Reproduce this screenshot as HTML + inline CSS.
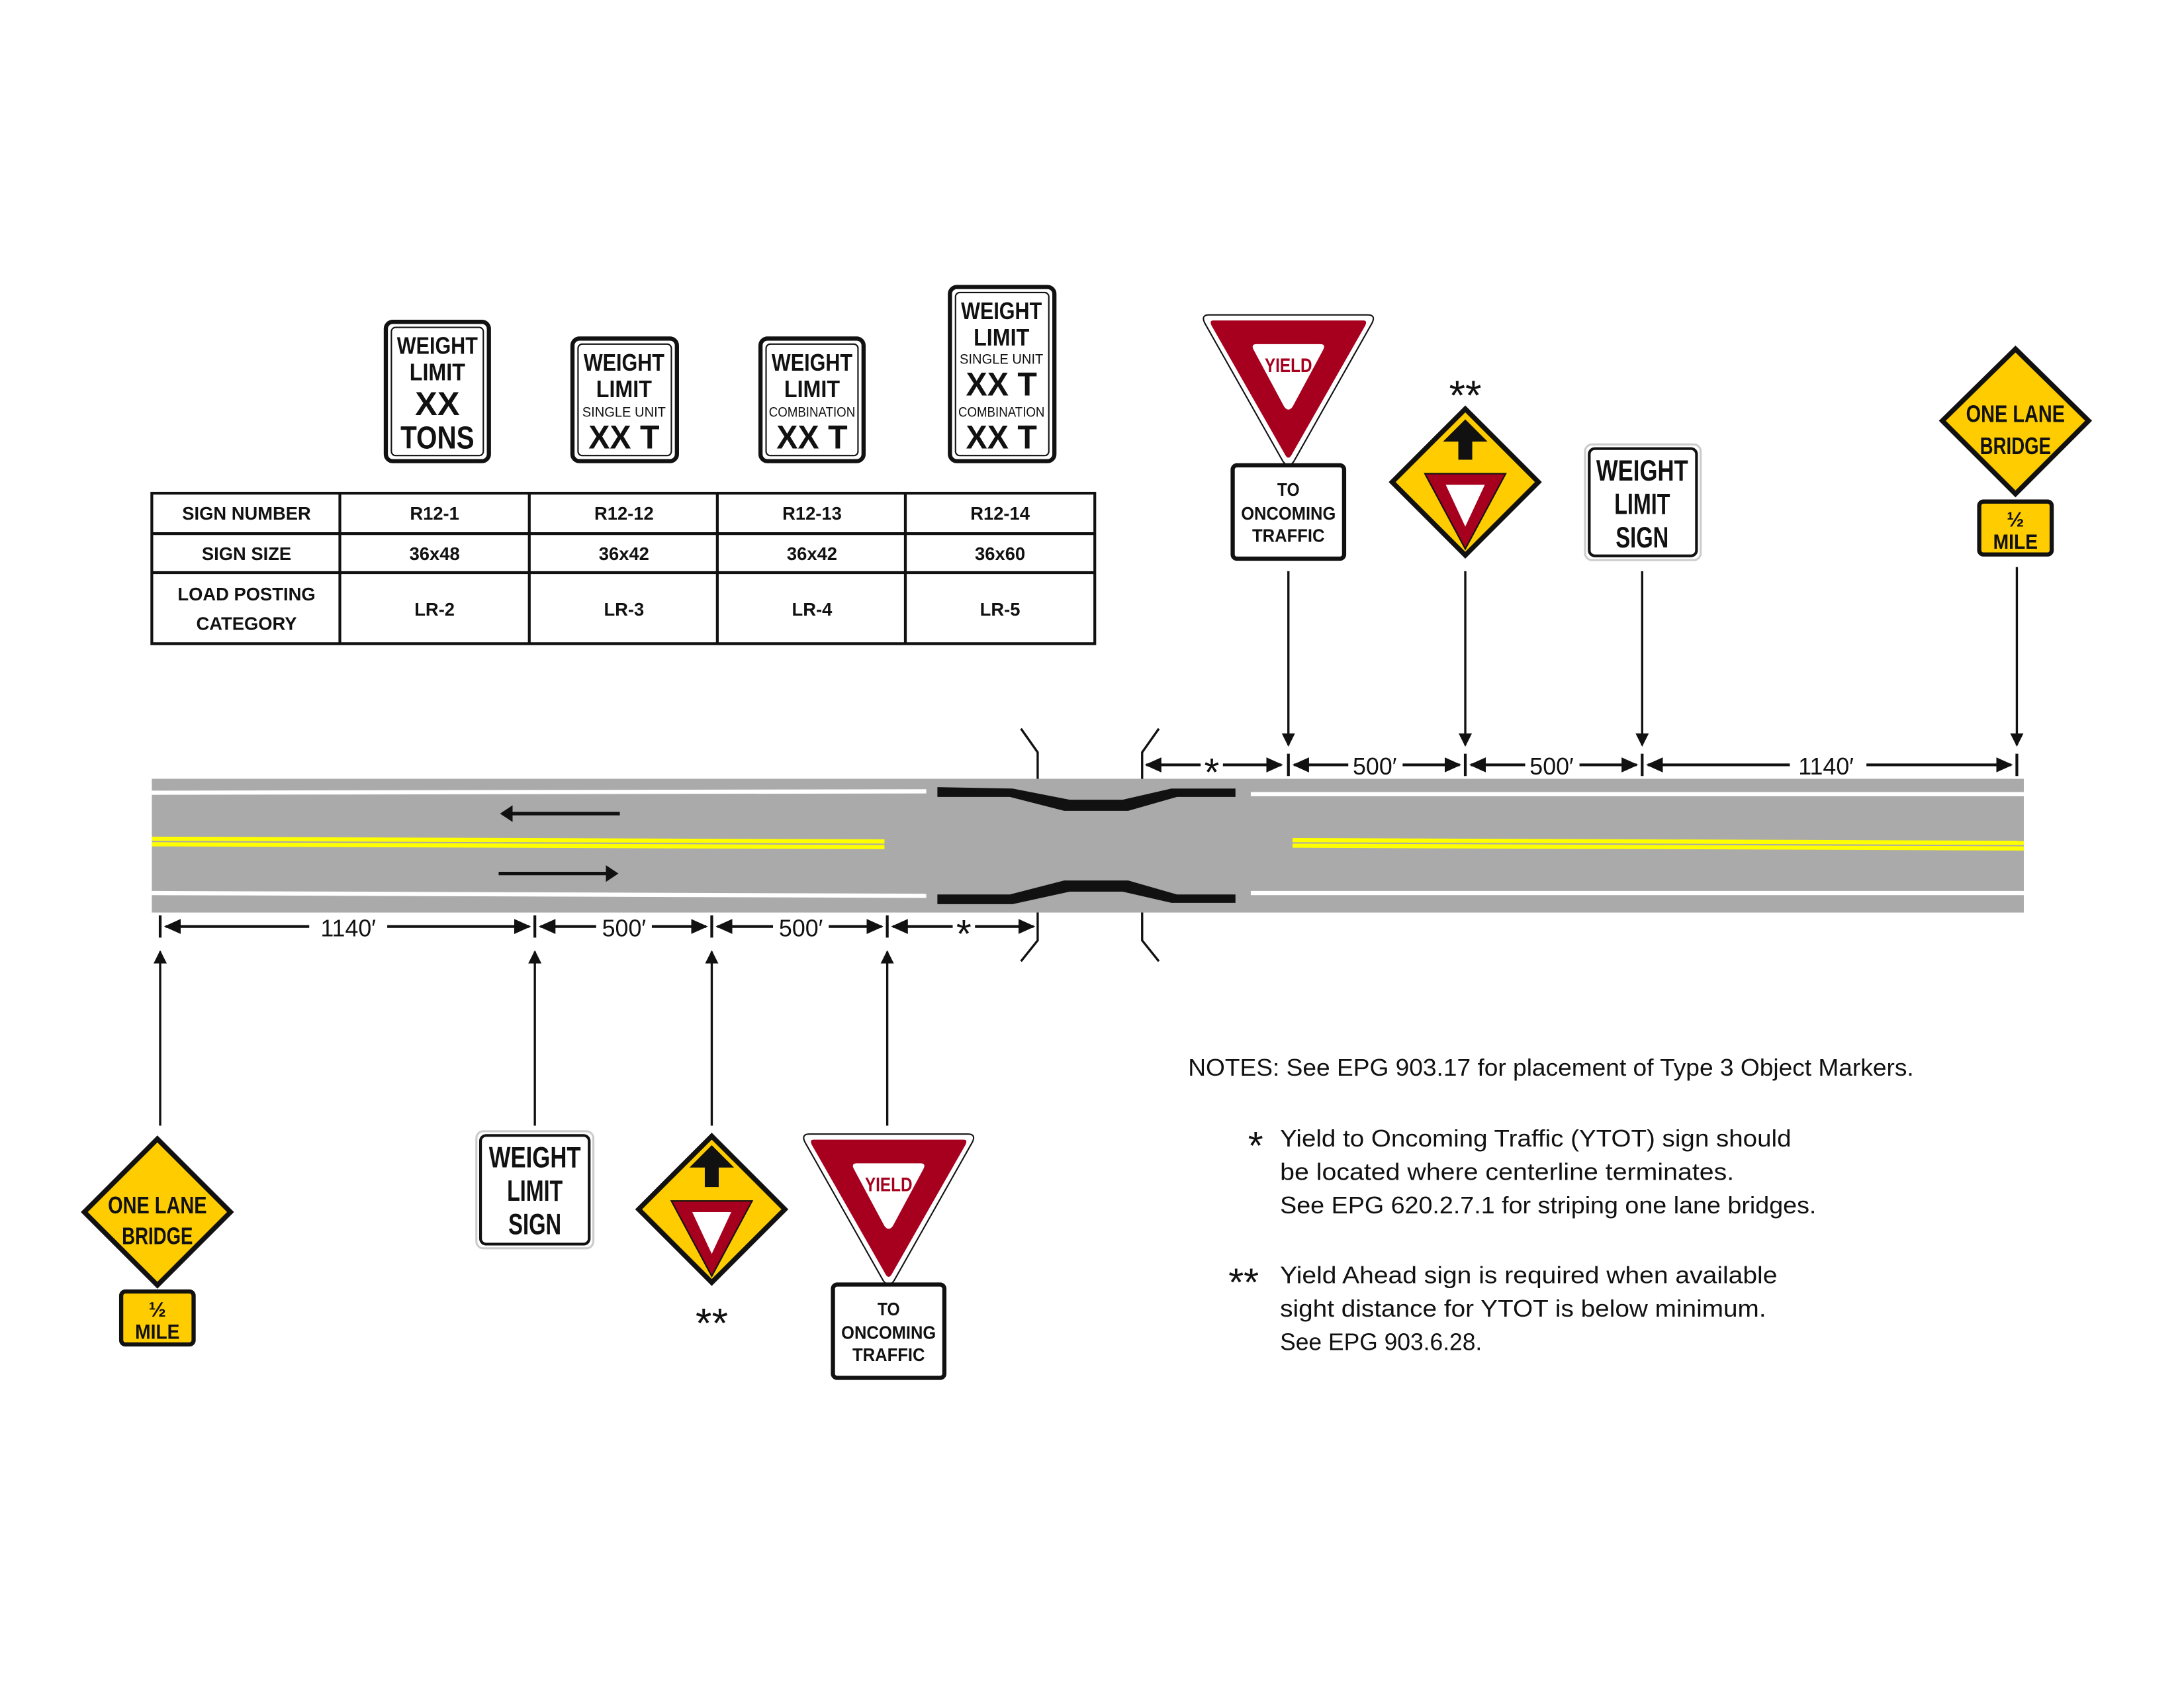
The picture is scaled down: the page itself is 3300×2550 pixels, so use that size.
<!DOCTYPE html>
<html><head><meta charset="utf-8"><style>
html,body{margin:0;padding:0;background:#fff;}
svg{display:block;}
.sf{font-family:"Liberation Sans",sans-serif;}
.tb{font-family:"Liberation Sans",sans-serif;font-weight:bold;font-size:13px;}
.nt{font-family:"Liberation Sans",sans-serif;font-size:17px;}
</style></head><body>
<svg width="3300" height="2550" viewBox="0 0 1568 1211.6" preserveAspectRatio="none" xmlns="http://www.w3.org/2000/svg">
<defs>
<marker id="ah" viewBox="0 0 10 10" refX="9" refY="5" markerWidth="6" markerHeight="6" orient="auto-start-reverse"><path d="M0,0 L10,5 L0,10 z" fill="#111"/></marker>
<marker id="ds" viewBox="0 0 10 10" refX="9" refY="5" markerWidth="6" markerHeight="6" orient="auto-start-reverse"><path d="M0,0.5 L10,5 L0,9.5 z" fill="#111"/></marker>
</defs>

<!-- Weight limit signs (top) -->
<g class="sf" text-anchor="middle" font-weight="bold" fill="#111">
<rect x="277" y="231" width="74" height="100" rx="5" fill="#fff" stroke="#111" stroke-width="3"/>
<rect x="281" y="235" width="66" height="92" rx="3" fill="none" stroke="#111" stroke-width="1"/>
<text x="314" y="254" font-size="17" textLength="58" lengthAdjust="spacingAndGlyphs">WEIGHT</text>
<text x="314" y="273" font-size="17" textLength="40" lengthAdjust="spacingAndGlyphs">LIMIT</text>
<text x="314" y="298" font-size="24" textLength="32" lengthAdjust="spacingAndGlyphs">XX</text>
<text x="314" y="322" font-size="23" textLength="53" lengthAdjust="spacingAndGlyphs">TONS</text>

<rect x="411" y="243" width="75" height="88" rx="5" fill="#fff" stroke="#111" stroke-width="3"/>
<rect x="415" y="247" width="67" height="80" rx="3" fill="none" stroke="#111" stroke-width="1"/>
<text x="448" y="266" font-size="17" textLength="58" lengthAdjust="spacingAndGlyphs">WEIGHT</text>
<text x="448" y="285" font-size="17" textLength="40" lengthAdjust="spacingAndGlyphs">LIMIT</text>
<text x="448" y="299" font-size="10" font-weight="normal" textLength="60" lengthAdjust="spacingAndGlyphs">SINGLE UNIT</text>
<text x="448" y="322" font-size="24" textLength="51" lengthAdjust="spacingAndGlyphs">XX T</text>

<rect x="546" y="243" width="74" height="88" rx="5" fill="#fff" stroke="#111" stroke-width="3"/>
<rect x="550" y="247" width="66" height="80" rx="3" fill="none" stroke="#111" stroke-width="1"/>
<text x="583" y="266" font-size="17" textLength="58" lengthAdjust="spacingAndGlyphs">WEIGHT</text>
<text x="583" y="285" font-size="17" textLength="40" lengthAdjust="spacingAndGlyphs">LIMIT</text>
<text x="583" y="299" font-size="10" font-weight="normal" textLength="62" lengthAdjust="spacingAndGlyphs">COMBINATION</text>
<text x="583" y="322" font-size="24" textLength="51" lengthAdjust="spacingAndGlyphs">XX T</text>

<rect x="682" y="206" width="75" height="125" rx="5" fill="#fff" stroke="#111" stroke-width="3"/>
<rect x="686" y="210" width="67" height="117" rx="3" fill="none" stroke="#111" stroke-width="1"/>
<text x="719" y="229" font-size="17" textLength="58" lengthAdjust="spacingAndGlyphs">WEIGHT</text>
<text x="719" y="248" font-size="17" textLength="40" lengthAdjust="spacingAndGlyphs">LIMIT</text>
<text x="719" y="261" font-size="10" font-weight="normal" textLength="60" lengthAdjust="spacingAndGlyphs">SINGLE UNIT</text>
<text x="719" y="284" font-size="24" textLength="51" lengthAdjust="spacingAndGlyphs">XX T</text>
<text x="719" y="299" font-size="10" font-weight="normal" textLength="62" lengthAdjust="spacingAndGlyphs">COMBINATION</text>
<text x="719" y="322" font-size="24" textLength="51" lengthAdjust="spacingAndGlyphs">XX T</text>
</g>

<!-- Table -->
<g stroke="#111" stroke-width="2" fill="none">
<rect x="109" y="354" width="677" height="108"/>
<line x1="109" y1="383" x2="786" y2="383"/>
<line x1="109" y1="411" x2="786" y2="411"/>
<line x1="244" y1="354" x2="244" y2="462"/>
<line x1="380" y1="354" x2="380" y2="462"/>
<line x1="515" y1="354" x2="515" y2="462"/>
<line x1="650" y1="354" x2="650" y2="462"/>
</g>
<g class="tb" text-anchor="middle" fill="#111">
<text x="177" y="373">SIGN NUMBER</text>
<text x="312" y="373">R12-1</text><text x="448" y="373">R12-12</text><text x="583" y="373">R12-13</text><text x="718" y="373">R12-14</text>
<text x="177" y="402">SIGN SIZE</text>
<text x="312" y="402">36x48</text><text x="448" y="402">36x42</text><text x="583" y="402">36x42</text><text x="718" y="402">36x60</text>
<text x="177" y="431">LOAD POSTING</text>
<text x="177" y="452">CATEGORY</text>
<text x="312" y="442">LR-2</text><text x="448" y="442">LR-3</text><text x="583" y="442">LR-4</text><text x="718" y="442">LR-5</text>
</g>

<!-- Road -->
<rect x="109" y="559" width="1344" height="96" fill="#aaa"/>
<g stroke="#fff" stroke-width="3">
<line x1="109" y1="569" x2="665" y2="568"/>
<line x1="109" y1="641" x2="665" y2="643"/>
<line x1="898" y1="570" x2="1453" y2="570"/>
<line x1="898" y1="641" x2="1453" y2="641"/>
</g>
<g stroke="#ff0" stroke-width="3">
<line x1="109" y1="602" x2="635" y2="604"/>
<line x1="109" y1="606" x2="635" y2="608"/>
<line x1="928" y1="603" x2="1453" y2="605"/>
<line x1="928" y1="607" x2="1453" y2="609"/>
</g>
<!-- bridge rails -->
<path d="M673,565 L727,566 L768,574 L806,574 L841,566 L887,566 L887,572 L845,572 L810,582 L764,582 L725,572 L673,572 Z" fill="#111"/>
<path d="M673,642 L725,642 L764,632 L810,632 L845,642 L887,642 L887,648 L841,648 L806,640 L768,640 L727,649 L673,649 Z" fill="#111"/>
<!-- traffic arrows -->
<g stroke="#111" stroke-width="2.5" fill="none">
<line x1="445" y1="584" x2="366" y2="584"/>
<line x1="358" y1="627" x2="437" y2="627"/>
</g>
<path d="M359,584 L368,578 L368,590 Z" fill="#111"/>
<path d="M444,627 L435,621 L435,633 Z" fill="#111"/>
<!-- bridge end markers -->
<g stroke="#111" stroke-width="1.6" fill="none">
<polyline points="733,523 745,540 745,559"/>
<polyline points="832,523 820,540 820,559"/>
<polyline points="745,655 745,675 733,690"/>
<polyline points="820,655 820,675 832,690"/>
</g>

<!-- Dimension lines top -->
<g stroke="#111" stroke-width="2" fill="none">
<line x1="925" y1="541" x2="925" y2="557"/>
<line x1="1052" y1="541" x2="1052" y2="557"/>
<line x1="1179" y1="541" x2="1179" y2="557"/>
<line x1="1448" y1="541" x2="1448" y2="557"/>
<line x1="823" y1="549" x2="862" y2="549" marker-start="url(#ds)"/>
<line x1="878" y1="549" x2="920" y2="549" marker-end="url(#ds)"/>
<line x1="929" y1="549" x2="968" y2="549" marker-start="url(#ds)"/>
<line x1="1007" y1="549" x2="1048" y2="549" marker-end="url(#ds)"/>
<line x1="1056" y1="549" x2="1095" y2="549" marker-start="url(#ds)"/>
<line x1="1134" y1="549" x2="1175" y2="549" marker-end="url(#ds)"/>
<line x1="1183" y1="549" x2="1285" y2="549" marker-start="url(#ds)"/>
<line x1="1340" y1="549" x2="1444" y2="549" marker-end="url(#ds)"/>
</g>
<g class="nt" text-anchor="middle" fill="#111">
<text x="870" y="564" style="font-size:28px">*</text>
<text x="987" y="556">500′</text>
<text x="1114" y="556">500′</text>
<text x="1311" y="556">1140′</text>
</g>
<!-- Dimension lines bottom -->
<g stroke="#111" stroke-width="2" fill="none">
<line x1="115" y1="657" x2="115" y2="673"/>
<line x1="384" y1="657" x2="384" y2="673"/>
<line x1="511" y1="657" x2="511" y2="673"/>
<line x1="637" y1="657" x2="637" y2="673"/>
<line x1="119" y1="665" x2="222" y2="665" marker-start="url(#ds)"/>
<line x1="278" y1="665" x2="380" y2="665" marker-end="url(#ds)"/>
<line x1="388" y1="665" x2="428" y2="665" marker-start="url(#ds)"/>
<line x1="468" y1="665" x2="507" y2="665" marker-end="url(#ds)"/>
<line x1="515" y1="665" x2="555" y2="665" marker-start="url(#ds)"/>
<line x1="595" y1="665" x2="633" y2="665" marker-end="url(#ds)"/>
<line x1="641" y1="665" x2="684" y2="665" marker-start="url(#ds)"/>
<line x1="700" y1="665" x2="742" y2="665" marker-end="url(#ds)"/>
</g>
<g class="nt" text-anchor="middle" fill="#111">
<text x="250" y="672">1140′</text>
<text x="448" y="672">500′</text>
<text x="575" y="672">500′</text>
<text x="692" y="680" style="font-size:28px">*</text>
</g>

<!-- leader arrows -->
<g stroke="#111" stroke-width="1.6" fill="none">
<line x1="925" y1="410" x2="925" y2="535" marker-end="url(#ah)"/>
<line x1="1052" y1="410" x2="1052" y2="535" marker-end="url(#ah)"/>
<line x1="1179" y1="410" x2="1179" y2="535" marker-end="url(#ah)"/>
<line x1="1448" y1="407" x2="1448" y2="535" marker-end="url(#ah)"/>
<line x1="115" y1="808" x2="115" y2="683" marker-end="url(#ah)"/>
<line x1="384" y1="808" x2="384" y2="683" marker-end="url(#ah)"/>
<line x1="511" y1="808" x2="511" y2="683" marker-end="url(#ah)"/>
<line x1="637" y1="808" x2="637" y2="683" marker-end="url(#ah)"/>
</g>

<!-- Yield sign top -->
<g>
<path d="M868,226 L982,226 Q988,226 985,232 L929,331 Q925,337 921,331 L865,232 Q862,226 868,226 Z" fill="#fff" stroke="#111" stroke-width="1"/>
<path d="M871,230 L979,230 Q982,230 980,234 L927,327 Q925,330 923,327 L870,234 Q868,230 871,230 Z" fill="#a6001e"/>
<path d="M902,247 L948,247 Q952,247 950,251 L928,292 Q925,296 922,292 L900,251 Q898,247 902,247 Z" fill="#fff"/>
<text x="925" y="267" class="sf" font-size="14" font-weight="bold" fill="#a6001e" text-anchor="middle" textLength="34" lengthAdjust="spacingAndGlyphs">YIELD</text>
<rect x="885" y="334" width="80" height="67" rx="3" fill="#fff" stroke="#111" stroke-width="3"/>
<g class="sf" font-size="13" font-weight="bold" text-anchor="middle" fill="#111">
<text x="925" y="356" textLength="16" lengthAdjust="spacingAndGlyphs">TO</text>
<text x="925" y="373" textLength="68" lengthAdjust="spacingAndGlyphs">ONCOMING</text>
<text x="925" y="389" textLength="52" lengthAdjust="spacingAndGlyphs">TRAFFIC</text>
</g>
</g>

<!-- Yield ahead top -->
<g>
<text x="1052" y="294" class="nt" style="font-size:30px" text-anchor="middle" fill="#111">**</text>
<path d="M1052,291 L1107,346 L1052,401 L997,346 Z" fill="#111"/>
<path d="M1052,296 L1102,346 L1052,396 L1002,346 Z" fill="#ffcc00"/>
<path d="M1052,301 L1068,317 L1057,317 L1057,330 L1047,330 L1047,317 L1036,317 Z" fill="#111"/>
<path d="M1023,340 L1081,340 L1052,394 Z" fill="#a6001e" stroke="#111" stroke-width="1"/>
<path d="M1038,348 L1066,348 L1052,378 Z" fill="#fff"/>
</g>

<!-- Weight limit sign top right -->
<g>
<rect x="1138" y="319" width="83" height="83" rx="5" fill="#fff" stroke="#ccc" stroke-width="1.5"/>
<rect x="1141" y="322" width="77" height="77" rx="4" fill="#fff" stroke="#111" stroke-width="2"/>
<g class="sf" font-size="21" font-weight="bold" text-anchor="middle" fill="#111">
<text x="1179" y="345" textLength="66" lengthAdjust="spacingAndGlyphs">WEIGHT</text>
<text x="1179" y="369" textLength="40" lengthAdjust="spacingAndGlyphs">LIMIT</text>
<text x="1179" y="393" textLength="38" lengthAdjust="spacingAndGlyphs">SIGN</text>
</g>
</g>

<!-- One lane bridge top right -->
<g>
<path d="M1447,248 L1502,302 L1447,357 L1392,302 Z" fill="#111"/>
<path d="M1447,253 L1497,302 L1447,352 L1397,302 Z" fill="#ffcc00"/>
<g class="sf" font-size="17" font-weight="bold" text-anchor="middle" fill="#111">
<text x="1447" y="303" textLength="71" lengthAdjust="spacingAndGlyphs">ONE LANE</text>
<text x="1447" y="326" textLength="51" lengthAdjust="spacingAndGlyphs">BRIDGE</text>
</g>
<rect x="1421" y="360" width="52" height="38" rx="3" fill="#ffcc00" stroke="#111" stroke-width="3"/>
<g class="sf" font-size="15" font-weight="bold" text-anchor="middle" fill="#111">
<text x="1447" y="378">½</text><text x="1447" y="394" textLength="32" lengthAdjust="spacingAndGlyphs">MILE</text>
</g>
</g>

<!-- Bottom: One lane bridge -->
<g>
<path d="M113,815 L168,870 L113,925 L58,870 Z" fill="#111"/>
<path d="M113,820 L163,870 L113,920 L63,870 Z" fill="#ffcc00"/>
<g class="sf" font-size="17" font-weight="bold" text-anchor="middle" fill="#111">
<text x="113" y="871" textLength="71" lengthAdjust="spacingAndGlyphs">ONE LANE</text>
<text x="113" y="893" textLength="51" lengthAdjust="spacingAndGlyphs">BRIDGE</text>
</g>
<rect x="87" y="927" width="52" height="38" rx="3" fill="#ffcc00" stroke="#111" stroke-width="3"/>
<g class="sf" font-size="15" font-weight="bold" text-anchor="middle" fill="#111">
<text x="113" y="945">½</text><text x="113" y="961" textLength="32" lengthAdjust="spacingAndGlyphs">MILE</text>
</g>
</g>

<!-- Bottom: Weight limit sign -->
<g>
<rect x="342" y="812" width="84" height="84" rx="5" fill="#fff" stroke="#ccc" stroke-width="1.5"/>
<rect x="345" y="815" width="78" height="78" rx="4" fill="#fff" stroke="#111" stroke-width="2"/>
<g class="sf" font-size="21" font-weight="bold" text-anchor="middle" fill="#111">
<text x="384" y="838" textLength="66" lengthAdjust="spacingAndGlyphs">WEIGHT</text>
<text x="384" y="862" textLength="40" lengthAdjust="spacingAndGlyphs">LIMIT</text>
<text x="384" y="886" textLength="38" lengthAdjust="spacingAndGlyphs">SIGN</text>
</g>
</g>

<!-- Bottom: Yield ahead -->
<g>
<path d="M511,813 L566,868 L511,923 L456,868 Z" fill="#111"/>
<path d="M511,818 L561,868 L511,918 L461,868 Z" fill="#ffcc00"/>
<path d="M511,822 L527,838 L516,838 L516,852 L506,852 L506,838 L495,838 Z" fill="#111"/>
<path d="M482,862 L540,862 L511,916 Z" fill="#a6001e" stroke="#111" stroke-width="1"/>
<path d="M497,870 L525,870 L511,900 Z" fill="#fff"/>
<text x="511" y="960" class="nt" style="font-size:30px" text-anchor="middle" fill="#111">**</text>
</g>

<!-- Bottom: Yield -->
<g>
<path d="M581,814 L695,814 Q701,814 698,820 L642,919 Q638,925 634,919 L578,820 Q575,814 581,814 Z" fill="#fff" stroke="#111" stroke-width="1"/>
<path d="M584,818 L692,818 Q695,818 693,822 L640,915 Q638,918 636,915 L583,822 Q581,818 584,818 Z" fill="#a6001e"/>
<path d="M615,835 L661,835 Q665,835 663,839 L641,880 Q638,884 635,880 L613,839 Q611,835 615,835 Z" fill="#fff"/>
<text x="638" y="855" class="sf" font-size="14" font-weight="bold" fill="#a6001e" text-anchor="middle" textLength="34" lengthAdjust="spacingAndGlyphs">YIELD</text>
<rect x="598" y="922" width="80" height="67" rx="3" fill="#fff" stroke="#111" stroke-width="3"/>
<g class="sf" font-size="13" font-weight="bold" text-anchor="middle" fill="#111">
<text x="638" y="944" textLength="16" lengthAdjust="spacingAndGlyphs">TO</text>
<text x="638" y="961" textLength="68" lengthAdjust="spacingAndGlyphs">ONCOMING</text>
<text x="638" y="977" textLength="52" lengthAdjust="spacingAndGlyphs">TRAFFIC</text>
</g>
</g>

<!-- Notes -->
<g class="nt" fill="#111">
<text x="853" y="772" textLength="521" lengthAdjust="spacingAndGlyphs">NOTES: See EPG 903.17 for placement of Type 3 Object Markers.</text>
<text x="896" y="832" style="font-size:28px">*</text>
<text x="919" y="823" textLength="367" lengthAdjust="spacingAndGlyphs">Yield to Oncoming Traffic (YTOT) sign should</text>
<text x="919" y="847" textLength="326" lengthAdjust="spacingAndGlyphs">be located where centerline terminates.</text>
<text x="919" y="871" textLength="385" lengthAdjust="spacingAndGlyphs">See EPG 620.2.7.1 for striping one lane bridges.</text>
<text x="882" y="930" style="font-size:28px">**</text>
<text x="919" y="921" textLength="357" lengthAdjust="spacingAndGlyphs">Yield Ahead sign is required when available</text>
<text x="919" y="945" textLength="349" lengthAdjust="spacingAndGlyphs">sight distance for YTOT is below minimum.</text>
<text x="919" y="969" textLength="145" lengthAdjust="spacingAndGlyphs">See EPG 903.6.28.</text>
</g>
</svg>
</body></html>
